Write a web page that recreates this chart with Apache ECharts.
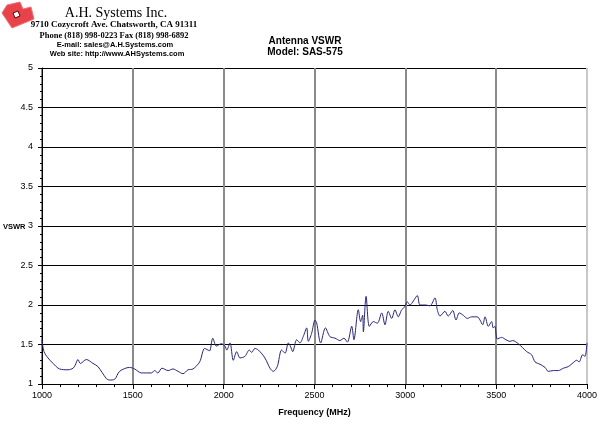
<!DOCTYPE html>
<html>
<head>
<meta charset="utf-8">
<script src="https://cdn.jsdelivr.net/npm/echarts@6/dist/echarts.min.js"></script>
<style>
html, body { margin: 0; padding: 0; background: #fff; }
#chart { width: 600px; height: 428px; }
</style>
</head>
<body>
<div id="chart"></div>
<script>
// 频率 (MHz)
var freq = [
    1000, 1011, 1033, 1061, 1097, 1143, 1171, 1183, 1198, 1211, 1244, 1281, 1308, 1354, 1372, 1400,
    1427, 1482, 1510, 1547, 1602, 1620, 1638, 1660, 1694, 1721, 1749, 1776, 1804, 1831, 1868, 1895,
    1914, 1923, 1940, 1960, 1987, 2007, 2017, 2035, 2053, 2072, 2090, 2117, 2141, 2154, 2172, 2191,
    2227, 2255, 2273, 2295, 2319, 2338, 2356, 2369, 2380, 2402, 2420, 2438, 2457, 2466, 2484, 2503,
    2512, 2534, 2560, 2585, 2613, 2640, 2662, 2681, 2705, 2717, 2741, 2754, 2765, 2769, 2784, 2802,
    2824, 2846, 2870, 2888, 2906, 2925, 2943, 2961, 2980, 2998, 3011, 3026, 3044, 3066, 3081, 3108,
    3136, 3163, 3176, 3191, 3218, 3236, 3261, 3279, 3297, 3319, 3341, 3365, 3396, 3411, 3426, 3439,
    3457, 3475, 3484, 3493, 3506, 3530, 3554, 3576, 3591, 3622, 3668, 3695, 3714, 3741, 3769, 3787,
    3815, 3842, 3870, 3897, 3924, 3943, 3957, 3976, 3989, 4000
];
// 驻波比
var vswr = [
    1.56, 1.41, 1.33, 1.26, 1.19, 1.18, 1.20, 1.24, 1.31, 1.26, 1.31, 1.26, 1.22, 1.07, 1.05, 1.06,
    1.16, 1.21, 1.19, 1.14, 1.14, 1.17, 1.14, 1.20, 1.17, 1.19, 1.16, 1.13, 1.18, 1.19, 1.28, 1.45,
    1.43, 1.42, 1.58, 1.48, 1.51, 1.48, 1.43, 1.52, 1.30, 1.41, 1.33, 1.35, 1.43, 1.40, 1.45, 1.43,
    1.33, 1.20, 1.16, 1.22, 1.43, 1.39, 1.52, 1.47, 1.41, 1.56, 1.52, 1.60, 1.71, 1.54, 1.64, 1.81,
    1.77, 1.52, 1.71, 1.60, 1.58, 1.55, 1.58, 1.53, 1.73, 1.56, 1.94, 1.79, 1.87, 1.66, 2.11, 1.73,
    1.79, 1.77, 1.90, 1.75, 1.92, 1.83, 1.94, 1.85, 1.94, 1.98, 2.04, 2.00, 2.05, 2.12, 2.00, 2.00,
    1.99, 2.09, 1.94, 1.86, 1.92, 1.86, 1.93, 1.81, 1.90, 1.87, 1.83, 1.85, 1.85, 1.81, 1.75, 1.85,
    1.73, 1.79, 1.71, 1.73, 1.57, 1.59, 1.56, 1.54, 1.55, 1.51, 1.41, 1.37, 1.28, 1.25, 1.21, 1.16,
    1.17, 1.17, 1.20, 1.22, 1.27, 1.30, 1.28, 1.37, 1.35, 1.52
];
// 坐标轴刻度
var xTicks = [1000, 1500, 2000, 2500, 3000, 3500, 4000];
var yTicks = [1, 1.5, 2, 2.5, 3, 3.5, 4, 4.5, 5];

var headerLines = [
    'A.H. Systems Inc.',
    '9710 Cozycroft Ave. Chatsworth, CA 91311',
    'Phone (818) 998-0223 Fax (818) 998-6892',
    'E-mail: sales@A.H.Systems.com',
    'Web site: http://www.AHSystems.com'
];

var seriesData = freq.map(function (f, i) { return [f, vswr[i]]; });

function headerText (x, y, text, font) {
    return {
        type: 'text', x: x, y: y,
        style: { text: text, font: font, fill: '#000', textAlign: 'center', textVerticalAlign: 'middle' }
    };
}

var option = {
    backgroundColor: '#fff',
    animation: false,
    grid: { left: 42, right: 13, top: 68, bottom: 44 },
    xAxis: {
        type: 'value',
        min: xTicks[0],
        max: xTicks[xTicks.length - 1],
        interval: 500,
        name: 'Frequency (MHz)',
        nameLocation: 'middle',
        nameGap: 24,
        nameTextStyle: { fontFamily: 'Liberation Sans', fontSize: 9, fontWeight: 'bold', color: '#000' },
        axisLine: { lineStyle: { color: '#000', width: 1 } },
        axisTick: { show: true, length: 5, lineStyle: { color: '#000' } },
        minorTick: { show: true, splitNumber: 5, length: 3, lineStyle: { color: '#000' } },
        axisLabel: {
            fontFamily: 'Liberation Sans', fontSize: 9, color: '#000', margin: 7,
            formatter: function (v) { return String(v); }
        },
        splitLine: {
            show: true,
            lineStyle: { color: ['#8a8a8a', '#8a8a8a', '#8a8a8a', '#8a8a8a', '#8a8a8a', '#8a8a8a', '#c8c8c8'], width: 2 }
        }
    },
    yAxis: {
        type: 'value',
        min: yTicks[0],
        max: yTicks[yTicks.length - 1],
        interval: 0.5,
        axisLine: { show: true, lineStyle: { color: '#000', width: 1 } },
        axisTick: { show: true, length: 4, lineStyle: { color: '#000' } },
        minorTick: { show: true, splitNumber: 5, length: 2, lineStyle: { color: '#000' } },
        axisLabel: { fontFamily: 'Liberation Sans', fontSize: 9, color: '#000', margin: 9 },
        splitLine: { show: true, lineStyle: { color: '#000', width: 1 } }
    },
    graphic: [
        // 标志
        {
            type: 'polygon',
            shape: { points: [[7, 5], [20, 2], [23, 9], [31, 7], [34, 19], [12, 28], [2, 13]] },
            style: { fill: '#e8434b', stroke: '#f07078', lineWidth: 1 }
        },
        {
            type: 'polygon',
            shape: { points: [[13, 13], [18, 11], [20, 16], [15, 18]] },
            style: { fill: '#fff', stroke: '#600', lineWidth: 1 }
        },
        headerText(116, 13, headerLines[0], '14px "Liberation Serif"'),
        headerText(114, 25, headerLines[1], 'bold 9px "Liberation Serif"'),
        headerText(114, 36, headerLines[2], 'bold 8.5px "Liberation Serif"'),
        headerText(115, 45, headerLines[3], 'bold 7.5px "Liberation Sans"'),
        headerText(117, 54, headerLines[4], 'bold 7.5px "Liberation Sans"'),
        // 标题
        headerText(305, 41, 'Antenna VSWR', 'bold 10px "Liberation Sans"'),
        headerText(305, 52, 'Model: SAS-575', 'bold 10px "Liberation Sans"'),
        // Y轴名称
        {
            type: 'text', x: 3, y: 227,
            style: { text: 'VSWR', font: 'bold 7.5px "Liberation Sans"', fill: '#000', textAlign: 'left', textVerticalAlign: 'middle' }
        }
    ],
    series: [
        {
            type: 'line',
            data: seriesData,
            showSymbol: false,
            smooth: 0.3,
            lineStyle: { color: '#26267a', width: 1 },
            z: 5
        }
    ]
};

var chart = echarts.init(document.getElementById('chart'));
chart.setOption(option);
</script>
</body>
</html>
